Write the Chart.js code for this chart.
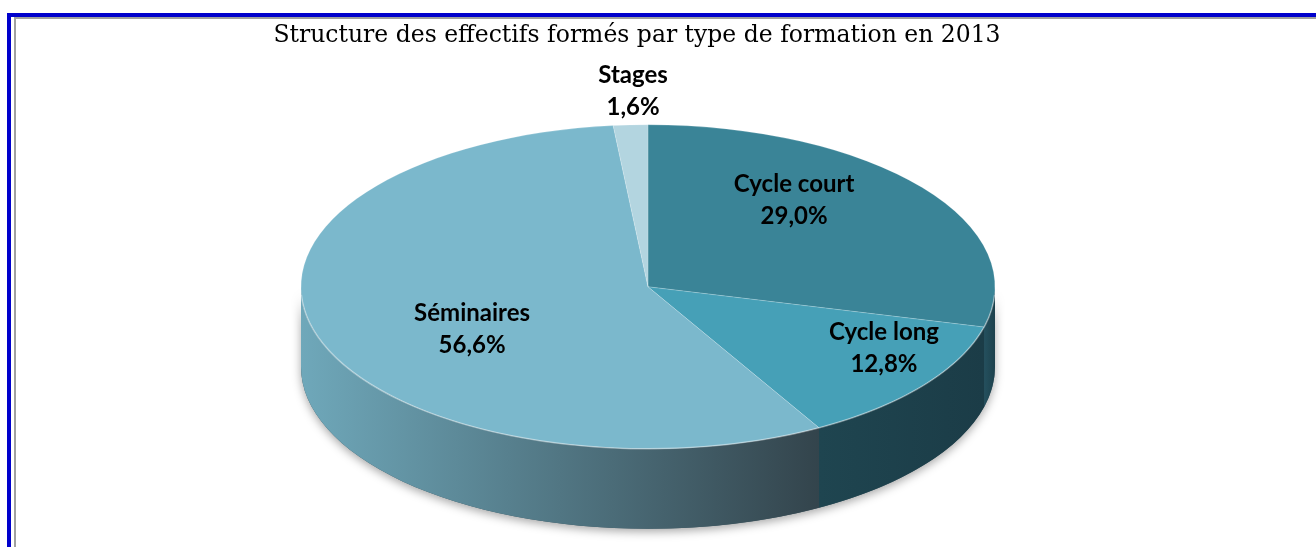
<!DOCTYPE html>
<html><head><meta charset="utf-8">
<script src="https://cdn.jsdelivr.net/npm/chart.js@4.4.1/dist/chart.umd.min.js"></script>
<style>
html,body{margin:0;padding:0;background:#fff;overflow:hidden}
#wrap{position:relative;width:1316px;height:547px}
canvas{position:absolute;left:0;top:0}
.fb{position:absolute;background:#0000cc}
.fg{position:absolute;background:#a0a0a0}
</style></head><body>
<div id="wrap">
<canvas id="c" width="1316" height="547"></canvas>
<div class="fb" style="left:7px;top:13px;width:1309px;height:4px"></div>
<div class="fb" style="left:7px;top:13px;width:4px;height:534px"></div>
<div class="fg" style="left:14px;top:17px;width:1302px;height:2px"></div>
<div class="fg" style="left:14px;top:17px;width:2px;height:530px"></div>
</div>
<script>
const titleText = 'Structure des effectifs formés par type de formation en 2013';
const categories = ['Cycle court', 'Cycle long', 'Séminaires', 'Stages'];
const shares = [29.0, 12.8, 56.6, 1.6];
const shareLabels = ['29,0%', '12,8%', '56,6%', '1,6%'];

const topColors = ['#3a8497', '#46a0b7', '#7bb8cc', '#b3d5e0'];
const sideColors = [['#24505e', '#1d414c'], ['#1f4550', '#1b3c47'], ['#6fa8ba', '#33444c'], ['#8fb5c2', '#8fb5c2']];
// label anchors: fractions of the ellipse radii, relative to the pie centre
const labelAnchors = [[0.421, -0.537], [0.680, 0.377], [-0.507, 0.265], [-0.043, -1.204]];

const pie3d = {
  id: 'pie3d',
  beforeDatasetsDraw(chart, args, o) {
    const meta = chart.getDatasetMeta(0);
    if (!meta.data.length) return;
    const a0 = meta.data[0];
    const x0 = a0.x, y0 = a0.y, R = a0.outerRadius;
    const cx = x0 + o.shiftX, k = o.squash, ry = R * k, d = o.depth;
    chart.$pie = {cx: cx, cy: y0, rx: R, ry: ry};
    const ctx = chart.ctx;
    ctx.save();
    ctx.shadowColor = 'rgba(0,0,0,0.35)'; ctx.shadowBlur = 10; ctx.shadowOffsetY = 3;
    ctx.beginPath();
    ctx.ellipse(cx, y0, R, ry, 0, 0, Math.PI, false);
    ctx.ellipse(cx, y0 + d, R, ry, 0, Math.PI, 0, true);
    ctx.closePath();
    ctx.fillStyle = '#3a5560'; ctx.fill();
    ctx.restore();
    ctx.save();
    meta.data.forEach((arc, i) => {
      const s = arc.startAngle, e = arc.endAngle;
      for (let m = -1; m <= 2; m++) {
        const lo = Math.max(s, 2 * Math.PI * m), hi = Math.min(e, 2 * Math.PI * m + Math.PI);
        if (hi > lo) {
          const xl = cx + R * Math.cos(hi), xr = cx + R * Math.cos(lo);
          const g = ctx.createLinearGradient(xl, 0, Math.max(xr, xl + 1), 0);
          g.addColorStop(0, o.sideColors[i][0]); g.addColorStop(1, o.sideColors[i][1]);
          ctx.beginPath();
          ctx.ellipse(cx, y0, R, ry, 0, lo, hi, false);
          ctx.ellipse(cx, y0 + d, R, ry, 0, hi, lo, true);
          ctx.closePath();
          ctx.fillStyle = g; ctx.fill();
        }
      }
    });
    ctx.restore();
    ctx.save();
    ctx.translate(cx, y0); ctx.scale(1, k); ctx.translate(-x0, -y0);
  },
  afterDatasetsDraw(chart) {
    const ctx = chart.ctx;
    ctx.restore();
    const p = chart.$pie;
    if (!p) return;
    ctx.save();
    ctx.beginPath();
    ctx.ellipse(p.cx, p.cy, p.rx, p.ry, 0, 0.05, Math.PI - 0.05, false);
    ctx.strokeStyle = 'rgba(255,255,255,0.35)'; ctx.lineWidth = 1.5; ctx.stroke();
    ctx.restore();
  }
};

const pieLabels = {
  id: 'pieLabels',
  afterDraw(chart, args, o) {
    const p = chart.$pie;
    if (!p) return;
    const ctx = chart.ctx;
    ctx.save();
    ctx.font = o.font; ctx.fillStyle = '#000';
    ctx.textAlign = 'center'; ctx.textBaseline = 'middle';
    categories.forEach((c, i) => {
      const x = p.cx + o.anchors[i][0] * p.rx, y = p.cy + o.anchors[i][1] * p.ry;
      ctx.fillText(c, x, y - o.lineGap / 2);
      ctx.fillText(shareLabels[i], x, y + o.lineGap / 2);
    });
    ctx.restore();
  }
};

new Chart(document.getElementById('c'), {
  type: 'pie',
  data: {
    labels: categories,
    datasets: [{
      data: shares,
      backgroundColor: topColors,
      borderColor: 'rgba(255,255,255,0.25)',
      borderWidth: 1,
      clip: false
    }]
  },
  options: {
    responsive: false,
    animation: false,
    radius: 347,
    rotation: 0,
    layout: {padding: {left: 0, right: 42, top: 0, bottom: 23}},
    plugins: {
      legend: {display: false},
      tooltip: {enabled: false},
      title: {
        display: true, text: titleText, color: '#000',
        font: {family: 'DejaVu Serif', size: 23.5, weight: 'normal'},
        padding: {top: 21.4, bottom: 0}
      },
      pie3d: {shiftX: 11, squash: 0.467, depth: 80, sideColors: sideColors},
      pieLabels: {font: 'bold 24px Lato', lineGap: 32, anchors: labelAnchors}
    }
  },
  plugins: [pie3d, pieLabels]
});
</script>
</body></html>
